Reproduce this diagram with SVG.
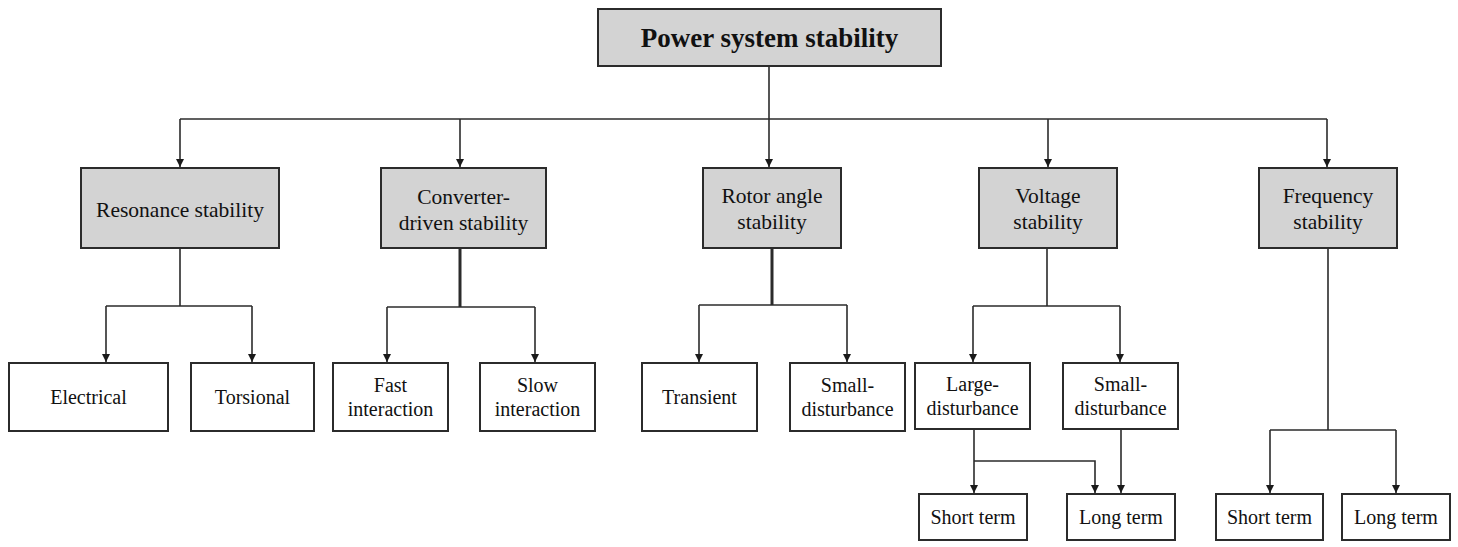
<svg xmlns="http://www.w3.org/2000/svg" width="1458" height="547" viewBox="0 0 1458 547">
<style>
.bg{fill:#ffffff}
.g{fill:#d3d3d3;stroke:#2b2b2b;stroke-width:2}
.w{fill:#ffffff;stroke:#2b2b2b;stroke-width:2}
.t{font-family:"Liberation Serif","Times New Roman",serif;fill:#111;text-anchor:middle}
.t0{font-size:27px;font-weight:bold}
.t1{font-size:21.5px}
.t2{font-size:20px}
.c{fill:none;stroke:#2b2b2b;stroke-width:1.6}
.thick{stroke-width:3}
</style>
<defs>
<marker id="ah" viewBox="0 0 8 10" refX="8" refY="5" markerWidth="8" markerHeight="10" markerUnits="userSpaceOnUse" orient="auto">
<path d="M0,1 L8,5 L0,9 Z" fill="#1a1a1a"/>
</marker>
</defs>
<rect class="bg" x="0" y="0" width="1458" height="547"/>

<g id="connectors">
<path class="c" d="M769,66 V119"/>
<path class="c" d="M180,119 H1327"/>
<path class="c" d="M180,119 V167" marker-end="url(#ah)"/>
<path class="c" d="M460,119 V167" marker-end="url(#ah)"/>
<path class="c" d="M769,119 V167" marker-end="url(#ah)"/>
<path class="c" d="M1048,119 V167" marker-end="url(#ah)"/>
<path class="c" d="M1327,119 V167" marker-end="url(#ah)"/>

<path class="c" d="M180,249 V306 M106,306 H252"/>
<path class="c" d="M106,306 V362" marker-end="url(#ah)"/>
<path class="c" d="M252,306 V362" marker-end="url(#ah)"/>

<path class="c thick" d="M460,249 V307"/>
<path class="c" d="M387,307 H535"/>
<path class="c" d="M387,307 V362" marker-end="url(#ah)"/>
<path class="c" d="M535,307 V362" marker-end="url(#ah)"/>

<path class="c thick" d="M772,249 V305"/>
<path class="c" d="M699,305 H847"/>
<path class="c" d="M699,305 V362" marker-end="url(#ah)"/>
<path class="c" d="M847,305 V362" marker-end="url(#ah)"/>

<path class="c" d="M1047,249 V306 M973,306 H1120"/>
<path class="c" d="M973,306 V362" marker-end="url(#ah)"/>
<path class="c" d="M1120,306 V362" marker-end="url(#ah)"/>

<path class="c" d="M974,430 V493" marker-end="url(#ah)"/>
<path class="c" d="M974,461 H1095 V493" marker-end="url(#ah)"/>
<path class="c" d="M1121,430 V493" marker-end="url(#ah)"/>

<path class="c" d="M1328,249 V430 M1270,430 H1396"/>
<path class="c" d="M1270,430 V493" marker-end="url(#ah)"/>
<path class="c" d="M1396,430 V493" marker-end="url(#ah)"/>
</g>

<g id="power">
<rect class="g" x="598" y="9" width="343" height="57"/>
<text class="t t0" x="769.5" y="47">Power system stability</text>
</g>

<g id="resonance">
<rect class="g" x="81" y="168" width="198" height="80"/>
<text class="t t1" x="180" y="216.5">Resonance stability</text>
</g>
<g id="converter">
<rect class="g" x="381" y="168" width="165" height="80"/>
<text class="t t1" x="463.5" y="204">Converter-</text>
<text class="t t1" x="463.5" y="230">driven stability</text>
</g>
<g id="rotor">
<rect class="g" x="703" y="168" width="138" height="80"/>
<text class="t t1" x="772" y="203">Rotor angle</text>
<text class="t t1" x="772" y="229">stability</text>
</g>
<g id="voltage">
<rect class="g" x="979" y="168" width="138" height="80"/>
<text class="t t1" x="1048" y="203">Voltage</text>
<text class="t t1" x="1048" y="229">stability</text>
</g>
<g id="frequency">
<rect class="g" x="1259" y="168" width="138" height="80"/>
<text class="t t1" x="1328" y="203">Frequency</text>
<text class="t t1" x="1328" y="229">stability</text>
</g>

<g id="electrical">
<rect class="w" x="9" y="363" width="159" height="68"/>
<text class="t t2" x="88.5" y="404">Electrical</text>
</g>
<g id="torsional">
<rect class="w" x="191" y="363" width="123" height="68"/>
<text class="t t2" x="252.5" y="404">Torsional</text>
</g>
<g id="fast">
<rect class="w" x="333" y="363" width="115" height="68"/>
<text class="t t2" x="390.5" y="392">Fast</text>
<text class="t t2" x="390.5" y="416">interaction</text>
</g>
<g id="slow">
<rect class="w" x="480" y="363" width="115" height="68"/>
<text class="t t2" x="537.5" y="392">Slow</text>
<text class="t t2" x="537.5" y="416">interaction</text>
</g>
<g id="transient">
<rect class="w" x="642" y="363" width="115" height="68"/>
<text class="t t2" x="699.5" y="404">Transient</text>
</g>
<g id="rotor-small">
<rect class="w" x="790" y="363" width="115" height="68"/>
<text class="t t2" x="847.5" y="392">Small-</text>
<text class="t t2" x="847.5" y="416">disturbance</text>
</g>
<g id="voltage-large">
<rect class="w" x="915" y="363" width="115" height="66"/>
<text class="t t2" x="972.5" y="391">Large-</text>
<text class="t t2" x="972.5" y="415">disturbance</text>
</g>
<g id="voltage-small">
<rect class="w" x="1063" y="363" width="115" height="66"/>
<text class="t t2" x="1120.5" y="391">Small-</text>
<text class="t t2" x="1120.5" y="415">disturbance</text>
</g>

<g id="v-short">
<rect class="w" x="919" y="494" width="108" height="46"/>
<text class="t t2" x="973" y="524">Short term</text>
</g>
<g id="v-long">
<rect class="w" x="1067" y="494" width="108" height="46"/>
<text class="t t2" x="1121" y="524">Long term</text>
</g>
<g id="f-short">
<rect class="w" x="1216" y="494" width="107" height="46"/>
<text class="t t2" x="1269.5" y="524">Short term</text>
</g>
<g id="f-long">
<rect class="w" x="1342" y="494" width="108" height="46"/>
<text class="t t2" x="1396" y="524">Long term</text>
</g>
</svg>
